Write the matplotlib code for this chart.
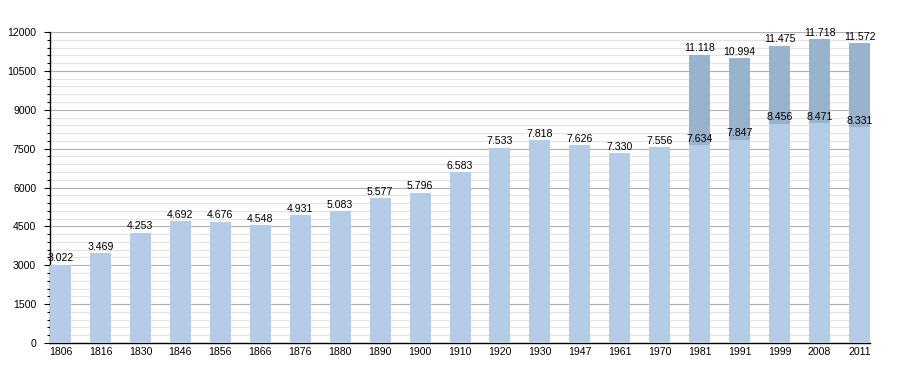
import matplotlib.pyplot as plt
import numpy as np
from matplotlib.ticker import MultipleLocator

plt.rcParams["font.family"] = ["Liberation Sans", "DejaVu Sans"]

years = ["1806", "1816", "1830", "1846", "1856", "1866", "1876", "1880", "1890", "1900",
         "1910", "1920", "1930", "1947", "1961", "1970", "1981", "1991", "1999", "2008", "2011"]
# base population (light part of the bar)
base = [3022, 3469, 4253, 4692, 4676, 4548, 4931, 5083, 5577, 5796,
        6583, 7533, 7818, 7626, 7330, 7556, 7634, 7847, 8456, 8471, 8331]
# total population where a second (dark) part is stacked on top, None otherwise
total = [None] * 16 + [11118, 10994, 11475, 11718, 11572]


def fmt(v):
    return f"{v:,}".replace(",", ".")


light = "#b4cce6"
dark = "#9ab3cc"
fs = 7.6

fig = plt.figure(figsize=(9, 3.73), dpi=100)
ax = fig.add_axes([0.0556, 0.0804, 0.9111, 0.8337])

x = np.arange(len(years))
w = 0.525
upper = [t - b if t is not None else 0 for t, b in zip(total, base)]

ax.bar(x, base, w, color=light, zorder=3)
ax.bar(x, upper, w, bottom=base, color=dark, zorder=3)

for i in range(len(years)):
    ax.text(x[i], base[i] + 60, fmt(base[i]), ha="center", va="bottom", fontsize=fs, zorder=4)
    if total[i] is not None:
        ax.text(x[i], total[i] + 60, fmt(total[i]), ha="center", va="bottom", fontsize=fs, zorder=4)

ax.set_xlim(-w / 2, len(years) - 1 + w / 2)
ax.set_ylim(0, 12000)
ax.yaxis.set_major_locator(MultipleLocator(1500))
ax.yaxis.set_minor_locator(MultipleLocator(300))
ax.grid(which="major", axis="y", color="#b0b0b0", linewidth=0.8, zorder=0)
ax.grid(which="minor", axis="y", color="#e4e4e4", linewidth=0.8, zorder=0)

ax.set_xticks(x)
ax.set_xticklabels(years)
ax.tick_params(axis="x", length=0, labelsize=fs, pad=3)
ax.tick_params(axis="y", which="major", length=4, width=0.8, labelsize=fs, pad=6)
ax.tick_params(axis="y", which="minor", length=2, width=0.8)

for s in ["top", "right"]:
    ax.spines[s].set_visible(False)
ax.spines["left"].set_linewidth(1)
ax.spines["bottom"].set_linewidth(1)

plt.savefig("out.png", dpi=100)
